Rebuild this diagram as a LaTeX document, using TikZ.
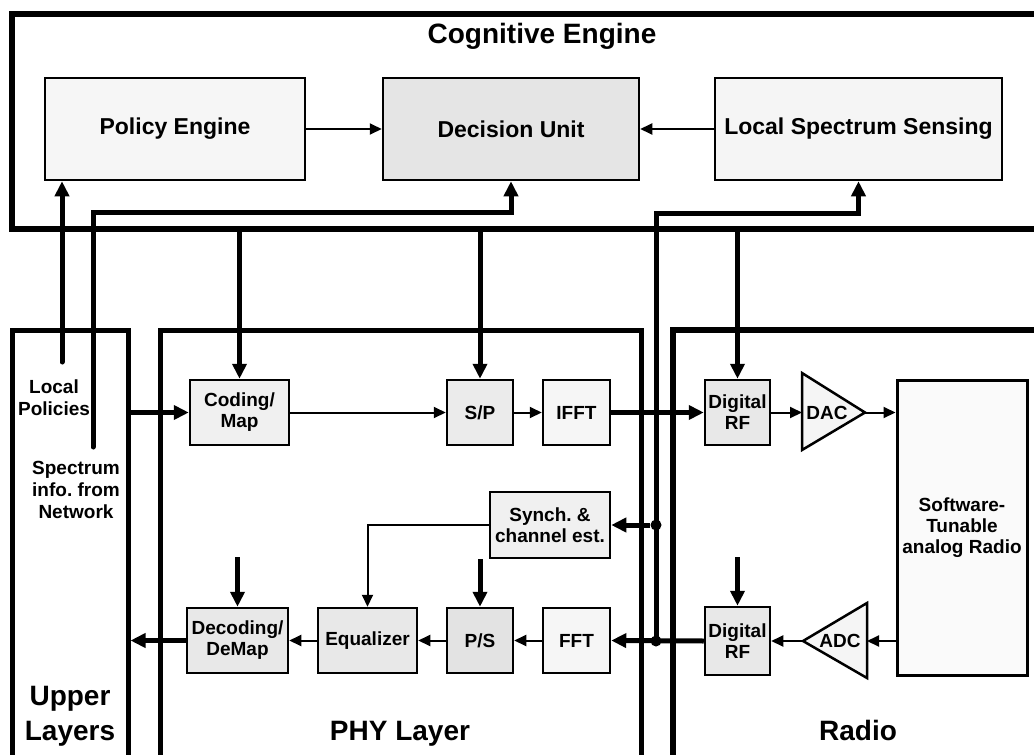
\documentclass[tikz,border=0pt]{standalone}
\usepackage{fontspec}
\setmainfont{Liberation Sans}
\usetikzlibrary{arrows.meta}
\frenchspacing
\begin{document}
\begin{tikzpicture}[x=1pt,y=-1pt,
  lay/.style={draw, line width=5pt, inner sep=0pt},
  blk/.style={draw, line width=2.5pt, align=center, inner sep=0pt, font=\bfseries\fontsize{19}{21}\selectfont},
  bigblk/.style={draw, line width=2.5pt, align=center, inner sep=0pt, font=\bfseries\fontsize{23}{26}\selectfont},
  lbl/.style={align=center, inner sep=0pt, font=\bfseries\fontsize{19}{22}\selectfont},
  ttl/.style={align=center, inner sep=0pt, font=\bfseries\fontsize{28}{35}\selectfont},
  thk/.style={line width=5pt, -{Triangle[length=15pt,width=14pt]}},
  thn/.style={line width=2pt, -{Triangle[length=12pt,width=11pt]}},
  jdot/.style={circle, fill, inner sep=0pt, minimum size=11pt}
]
\useasboundingbox (0,0) rectangle (1034,755);

% Cognitive Engine
\node[lay, line width=6pt, minimum width=1040pt, minimum height=215pt] (ce) at (532,121) {};
\node[ttl, anchor=base] (cet) at (542,43) {Cognitive Engine};
\node[bigblk, fill=gray!7, minimum width=260pt, minimum height=102pt] (pe) at (175,129) {Policy Engine};
\node[bigblk, fill=gray!20, minimum width=256pt, minimum height=102pt] (du) at (511,129) {Decision Unit};
\node[bigblk, fill=gray!8, minimum width=287pt, minimum height=102pt] (lss) at (858.5,129) {Local Spectrum Sensing};

% Layer boxes
\node[lay, minimum width=116pt, minimum height=440pt] (ul) at (70,550) {};
\node[lay, minimum width=481pt, minimum height=440pt] (phy) at (400.5,550) {};
\node[lay, line width=6pt, minimum width=377pt, minimum height=440pt] (rad) at (861.5,550) {};
\node[ttl] (ult) at (70,716) {Upper\\Layers};
\node[ttl, anchor=base] (phyt) at (400,740) {PHY Layer};
\node[ttl, anchor=base] (radt) at (858,740) {Radio};
\node[lbl] (lpol) at (54,398) {Local\\Policies};
\node[lbl] (sinf) at (76,490) {Spectrum\\info. from\\Network};

% PHY blocks
\node[blk, fill=gray!12, minimum width=99pt, minimum height=65pt] (coding) at (239.5,412.5) {Coding/\\Map};
\node[blk, fill=gray!16, minimum width=66pt, minimum height=65pt] (sp) at (480,412.5) {S/P};
\node[blk, fill=gray!7, minimum width=67pt, minimum height=65pt] (ifft) at (576.5,412.5) {IFFT};
\node[blk, fill=gray!12, minimum width=120pt, minimum height=66pt] (synch) at (550,525) {Synch. \&\\channel est.};
\node[blk, fill=gray!7, minimum width=67pt, minimum height=65pt] (fft) at (576.5,640.5) {FFT};
\node[blk, fill=gray!22, minimum width=66pt, minimum height=65pt] (ps) at (480,640.5) {P/S};
\node[blk, fill=gray!18, minimum width=99pt, minimum height=65pt] (eq) at (367.5,640.5) {Equalizer};
\node[blk, fill=gray!18, minimum width=101pt, minimum height=65pt] (dec) at (237.5,640.5) {Decoding/\\DeMap};

% Radio blocks
\node[blk, fill=gray!18, minimum width=65pt, minimum height=65pt] (drfa) at (737.5,412.5) {Digital\\RF};
\node[blk, fill=gray!18, minimum width=65pt, minimum height=68pt] (drfb) at (737.5,641) {Digital\\RF};
\node[blk, fill=gray!4, minimum width=130pt, minimum height=295pt, line width=3pt] (swr) at (962,527.5) {Software-\\Tunable\\analog Radio};

\coordinate (dacin) at (802,412.5);
\coordinate (dacout) at (865,412.5);
\coordinate (adcin) at (867,641);
\coordinate (adcout) at (803,641);
\draw[line width=2.5pt, fill=gray!8, line join=miter] (802,373) -- (865,412.5) -- (802,450) -- cycle;
\draw[line width=2.5pt, fill=gray!8, line join=miter] (867,603) -- (803,641) -- (867,678) -- cycle;
\node[lbl] (dac) at (827,412.5) {DAC};
\node[lbl] (adc) at (840,641) {ADC};

% Cognitive engine internal arrows
\draw[thn] (pe.east) -- (du.west);
\draw[thn] (lss.west) -- (du.east);

% Feedback / control lines
\coordinate (lp) at (62,362);
\coordinate (si) at (93,447);
\draw[thk, line cap=round] (lp) -- (lp |- pe.south);
\draw[thk, line cap=round] (si) |- ([yshift=-31pt]du.south) -- (du.south);
\draw[thk] (coding.north |- ce.south) -- (coding.north);
\draw[thk] (sp.north |- ce.south) -- (sp.north);
\draw[thk] (drfa.north |- ce.south) -- (drfa.north);

% spectrum bus
\coordinate (busbot) at (656,641);
\coordinate (busmid) at (656,525);
\draw[thk] (busbot) |- ([yshift=-32pt]lss.south) -- (lss.south);
\node[jdot] (j1) at (busmid) {};
\node[jdot] (j2) at (busbot) {};
\draw[thk] (j1) -- (synch.east);

% transmit chain
\draw[thk] (ul.east |- coding.west) -- (coding.west);
\draw[thn] (coding.east) -- (sp.west);
\draw[thn] (sp.east) -- (ifft.west);
\draw[thk] (ifft.east) -- (drfa.west);
\draw[thn] (drfa.east) -- (dacin);
\draw[thn] (dacout) -- (dacout -| swr.west);

% receive chain
\draw[thn] (adcin -| swr.west) -- (adcin);
\draw[thn] (adcout) -- (drfb.east);
\draw[thk] (drfb.west) -- (fft.east);
\draw[thn] (fft.west) -- (ps.east);
\draw[thn] (ps.west) -- (eq.east);
\draw[thn] (eq.west) -- (dec.east);
\draw[thk] (dec.west) -- (ul.east |- dec.west);
\draw[thn] (synch.west) -| (eq.north);
\draw[thk] (ps.north |- synch.south) -- (ps.north);

% control inputs from above
\coordinate (decin) at (237.5,557);
\coordinate (drfbin) at (737.5,557);
\draw[thk] (decin) -- (dec.north);
\draw[thk] (drfbin) -- (drfb.north);
\end{tikzpicture}
\end{document}
